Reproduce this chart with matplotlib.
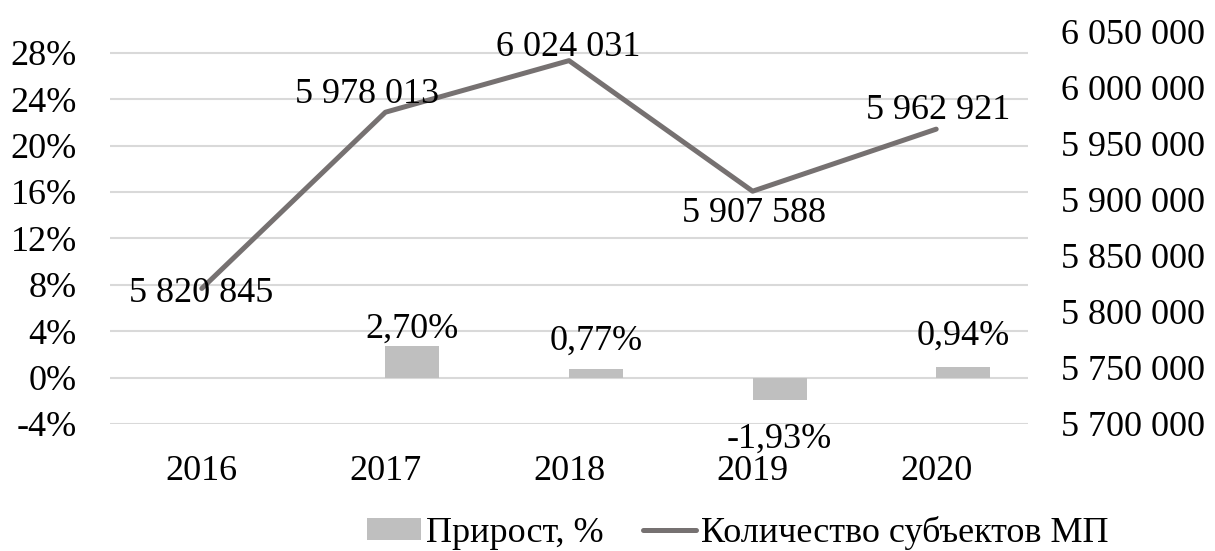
import matplotlib
matplotlib.use('Agg')
import matplotlib.pyplot as plt
import numpy as np
from matplotlib.ticker import FuncFormatter

plt.rcParams['font.family'] = ['Liberation Serif', 'DejaVu Serif']
plt.rcParams['font.size'] = 26

YEARS = ['2016', '2017', '2018', '2019', '2020']
GROWTH = [np.nan, 2.70, 0.77, -1.93, 0.94]          # прирост, %
COUNT = [5820845, 5978013, 6024031, 5907588, 5962921]  # количество субъектов МП

BAR_COLOR = '#bfbfbf'
LINE_COLOR = '#767171'
GRID_COLOR = '#d9d9d9'

xpos = np.arange(len(YEARS))

fig = plt.figure(figsize=(12.15, 5.51), dpi=100)
ax = fig.add_axes([110/1215, 1-424/551, (1028-110)/1215, (424-31.5)/551])
ax2 = ax.twinx()

# bars on the left (percent) axis
ax.bar(xpos, GROWTH, width=0.294, align='edge', color=BAR_COLOR, label='Прирост, %', zorder=2)
ax.set_xlim(-0.5, 4.5)
ax.set_ylim(-4, 28 + 21.2/11.6)
ax.set_yticks(np.arange(-4, 29, 4))
ax.yaxis.set_major_formatter(FuncFormatter(lambda v, p: f'{v:.0f}%'))
ax.grid(axis='y', color=GRID_COLOR, linewidth=1.5)
ax.set_axisbelow(True)
ax.set_xticks(xpos)
ax.set_xticklabels(YEARS)
ax.tick_params(axis='x', length=0, pad=22)
ax.tick_params(axis='y', length=0, pad=24)

# line on the right axis
ax2.plot(xpos, COUNT, color=LINE_COLOR, linewidth=3.6, label='Количество субъектов МП',
         solid_capstyle='round', zorder=3)
ax2.set_ylim(5700000, 6050000)
ax2.set_yticks(np.arange(5700000, 6050001, 50000))
ax2.yaxis.set_major_formatter(FuncFormatter(lambda v, p: f'{v:,.0f}'.replace(',', ' ')))
ax2.tick_params(axis='y', length=0, pad=24)

for a in (ax, ax2):
    for s in a.spines.values():
        s.set_visible(False)

# bar labels (offsets in pixels to label centre)
bar_off = [0, 21, 31, -36, 34]
for i, v in enumerate(GROWTH):
    if np.isnan(v):
        continue
    ax.annotate(f'{v:.2f}%'.replace('.', ','), (xpos[i] + 0.147, v),
                xytext=(0, bar_off[i] - 12), textcoords='offset pixels',
                ha='center', va='baseline', zorder=5)

# line labels
line_off = [(-1, -1.5), (-18.5, 21.7), (-1, 17), (1.5, -18.3), (1.5, 22)]
for i, v in enumerate(COUNT):
    dx, dy = line_off[i]
    ax2.annotate(f'{v:,.0f}'.replace(',', ' '), (xpos[i], v),
                 xytext=(dx, dy - 12), textcoords='offset pixels',
                 ha='center', va='baseline', zorder=5)

h1, l1 = ax.get_legend_handles_labels()
h2, l2 = ax2.get_legend_handles_labels()
fig.legend(h1 + h2, l1 + l2, loc='center', bbox_to_anchor=(738/1215, 1-533/551),
           ncol=2, frameon=False, handlelength=1.47, handleheight=0.56,
           handletextpad=0.14, columnspacing=1.1, borderpad=0, borderaxespad=0)

fig.savefig('out.png', dpi=100)
